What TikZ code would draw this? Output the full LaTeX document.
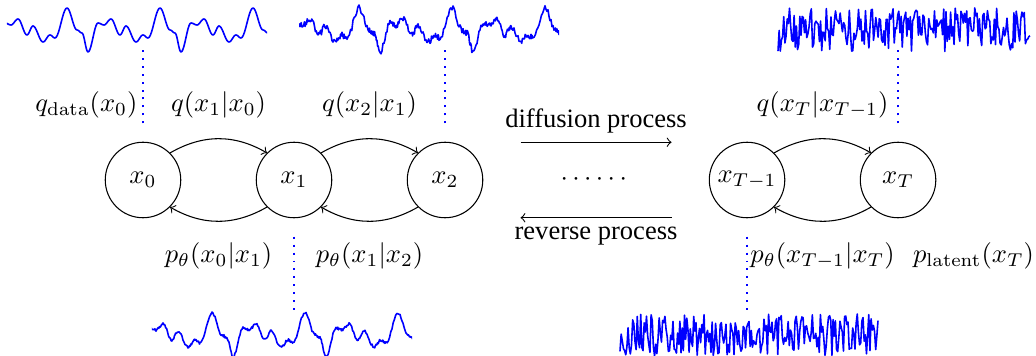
\documentclass[tikz,border=0pt]{standalone}
\usepackage{amsmath,amssymb}
\usepackage[no-math]{fontspec}
\setmainfont{Liberation Serif}
\usepackage{tikz}
\usetikzlibrary{backgrounds}
\usetikzlibrary{arrows,calc}
\pgfdeclarelayer{edgelayer}
\pgfdeclarelayer{nodelayer}
\pgfsetlayers{background,edgelayer,nodelayer,main}
\tikzstyle{none}=[inner sep=0mm]
\tikzstyle{var}=[circle,draw=black,minimum size=1cm,inner sep=0pt]
\tikzstyle{fwd}=[->,bend left=30]
\tikzstyle{link}=[draw=blue,line width=0.8pt,dash pattern=on 0.75pt off 2.25pt]
\tikzstyle{sig}=[draw=blue,line width=0.6pt,line join=round]
% one sample signal (period 93px) with noise of #1 px, in pixel units
\newcommand{\datacurve}[1]{(-89,25) \foreach \p in {-93,0,93,186} {
	\foreach \xa/\ya/\xb/\yb in {4/25/11/19, 11/19/20/35, 20/35/26/26, 26/26/36/42, 36/42/43/35, 43/35/48/38, 48/38/60/8, 60/8/70/30, 70/30/75/33, 75/33/81/52, 81/52/91/23, 91/23/97/25} {
	\foreach \k in {1,...,10} {
	-- ({\p+\xa+(\xb-\xa)*\k/10},{\ya+(\yb-\ya)*(1-cos(18*\k))/2+#1*rand})
	}}}}

\begin{document}
\begin{tikzpicture}
	\useasboundingbox (-1.894,-2.331) rectangle (11.827,2.384);
	\pgfmathsetseed{11}
	\begin{pgfonlayer}{nodelayer}
		\node [style=var] (x0) at (0, 0) {$x_0$};
		\node [style=var] (x1) at (2, 0) {$x_1$};
		\node [style=var] (x2) at (4, 0) {$x_2$};
		\node [style=var] (xm) at (8, 0) {$x_{T-1}$};
		\node [style=var] (xT) at (10, 0) {$x_T$};
		\node [style=none] (dots) at (6, 0) {$\cdots\cdots$};
		\node [style=none] (qd) at (-0.75, 1) {$q_{\mathrm{data}}(x_0)$};
		\node [style=none] (q1) at (1, 1) {$q(x_1|x_0)$};
		\node [style=none] (q2) at (3, 1) {$q(x_2|x_1)$};
		\node [style=none] (qT) at (9, 1) {$q(x_T|x_{T-1})$};
		\node [style=none] (p0) at (1, -1) {$p_\theta(x_0|x_1)$};
		\node [style=none] (p1) at (3, -1) {$p_\theta(x_1|x_2)$};
		\node [style=none] (pT) at (9, -1) {$p_\theta(x_{T-1}|x_T)$};
		\node [style=none] (pl) at (11, -1) {$p_{\mathrm{latent}}(x_T)$};
		\node [style=none] (d0) at (5, 0.5) {};
		\node [style=none] (d1) at (7, 0.5) {};
		\node [style=none] (r0) at (7, -0.5) {};
		\node [style=none] (r1) at (5, -0.5) {};
		\node [style=none] (t0a) at (0, 0.75) {};
		\node [style=none] (t0b) at (0, 1.75) {};
		\node [style=none] (t2a) at (4, 0.75) {};
		\node [style=none] (t2b) at (4, 1.75) {};
		\node [style=none] (tTa) at (10, 0.75) {};
		\node [style=none] (tTb) at (10, 1.75) {};
		\node [style=none] (b1a) at (2, -0.75) {};
		\node [style=none] (b1b) at (2, -1.75) {};
		\node [style=none] (bma) at (8, -0.75) {};
		\node [style=none] (bmb) at (8, -1.75) {};
	\end{pgfonlayer}
	\begin{pgfonlayer}{edgelayer}
		\draw [style=fwd] (x0.45) to (x1.135);
		\draw [style=fwd] (x1.45) to (x2.135);
		\draw [style=fwd] (xm.45) to (xT.135);
		\draw [style=fwd] (x1.-135) to (x0.-45);
		\draw [style=fwd] (x2.-135) to (x1.-45);
		\draw [style=fwd] (xT.-135) to (xm.-45);
		\draw [->] (d0.center) to node[above] {diffusion process} (d1.center);
		\draw [->] (r0.center) to node[below] {reverse process} (r1.center);
		\draw [style=link] (t0a.center) to (t0b.center);
		\draw [style=link] (t2a.center) to (t2b.center);
		\draw [style=link] (tTa.center) to (tTb.center);
		\draw [style=link] (b1a.center) to (b1b.center);
		\draw [style=link] (bma.center) to (bmb.center);
	\end{pgfonlayer}
	% signals, drawn in pixels of the sketch
	\begin{scope}[shift={(-1.894cm,2.384cm)},x=0.013245cm,y=-0.013245cm]
		\begin{scope}[shift={(7,0)}]
			\clip (0,0) rectangle (260,60);
			\draw [style=sig] \datacurve{0};
		\end{scope}
		\begin{scope}[shift={(299,0)}]
			\clip (0,0) rectangle (260,60);
			\draw [style=sig] \datacurve{3};
		\end{scope}
		\begin{scope}[shift={(152,305)}]
			\clip (0,0) rectangle (260,60);
			\draw [style=sig] \datacurve{1.3};
		\end{scope}
		\draw [style=sig] plot[domain=778:1030,samples=220] (\x,{30+22*rand});
		\draw [style=sig] plot[domain=620:878,samples=225] (\x,{335+21*rand});
	\end{scope}
\end{tikzpicture}
\end{document}
